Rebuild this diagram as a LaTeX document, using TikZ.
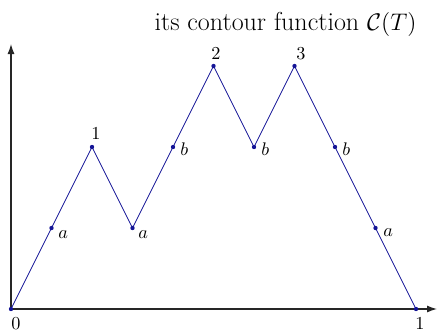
\documentclass[tikz,border=0pt]{standalone}
\usetikzlibrary{arrows.meta}
\definecolor{pathblue}{RGB}{20,20,150}
\tikzset{
  axis/.style={line width=0.75pt, draw=black!85, -{Latex[length=6pt,width=4.2pt]}},
  contour/.style={draw=pathblue, line width=0.5pt},
  dot/.style={circle, fill=pathblue, inner sep=0pt, minimum size=2.6pt},
  lab/.style={inner sep=0pt, anchor=base west, font=\fontsize{10.5}{12}\selectfont},
  toplab/.style={inner sep=0pt, anchor=base, font=\fontsize{10.5}{12}\selectfont},
}
\begin{document}
\begin{tikzpicture}[x=0.6pt, y=-0.6pt]
\useasboundingbox (0,0) rectangle (438,331);
% axes
\coordinate (O) at (11,309);
\coordinate (yend) at (11,44);
\coordinate (xend) at (437,309);
\draw[axis] (O) -- (yend);
\draw[axis] (O) -- (xend);
% contour points
\node[dot] (p0) at (11,309) {};
\node[dot] (p1) at (51.5,228) {};
\node[dot] (p2) at (92,147) {};
\node[dot] (p3) at (132.5,228) {};
\node[dot] (p4) at (173,147) {};
\node[dot] (p5) at (213.5,66) {};
\node[dot] (p6) at (254,147) {};
\node[dot] (p7) at (294.5,66) {};
\node[dot] (p8) at (335,147) {};
\node[dot] (p9) at (375.5,228) {};
\node[dot] (p10) at (416,309) {};
\draw[contour] (p0.center) -- (p1.center) -- (p2.center) -- (p3.center) -- (p4.center) -- (p5.center) -- (p6.center) -- (p7.center) -- (p8.center) -- (p9.center) -- (p10.center);
% labels
\node[lab] (la1) at (58,238) {$a$};
\node[lab] (la3) at (138,238) {$a$};
\node[lab] (lb4) at (180,155) {$b$};
\node[lab] (lb6) at (261,155) {$b$};
\node[lab] (lb8) at (342,155) {$b$};
\node[lab] (la9) at (383,236) {$a$};
\node[toplab] (l1) at (96,139) {$1$};
\node[toplab] (l2) at (216,59) {$2$};
\node[toplab] (l3) at (301,59) {$3$};
\node[toplab] (l0) at (16,329) {$0$};
\node[toplab] (l10) at (420,329) {$1$};
% title
\node[inner sep=0pt, anchor=base, font=\fontsize{15.6}{18}\selectfont] (title) at (285.5,30) {its contour function $\mathcal{C}(T)$};
\end{tikzpicture}
\end{document}
